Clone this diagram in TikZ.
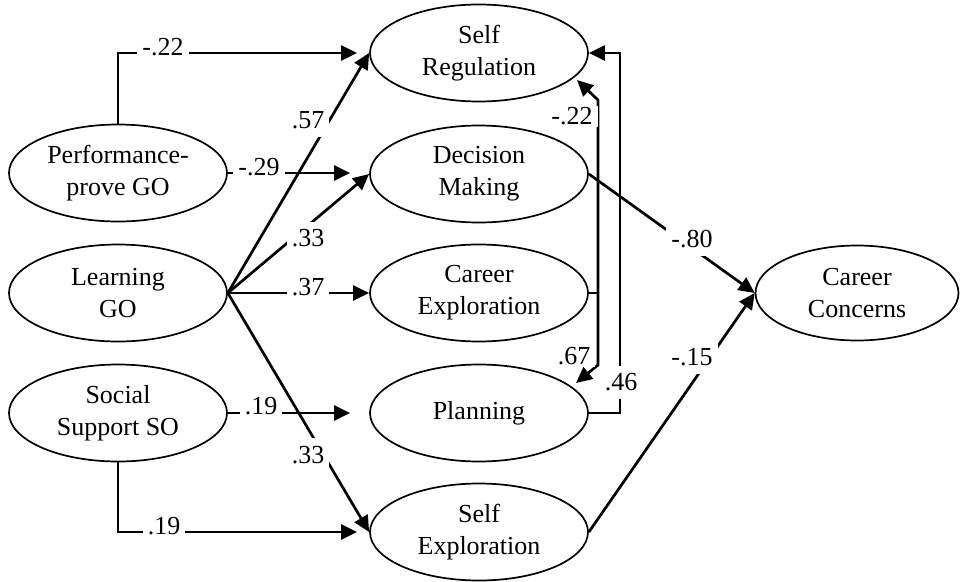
\documentclass[tikz,border=0pt]{standalone}
\usepackage{fontspec}
\setmainfont{Liberation Serif}
\usetikzlibrary{arrows.meta,shapes.geometric}
\begin{document}
\begin{tikzpicture}[x=1pt,y=-1pt,
  ell/.style={draw, line width=1.7pt, ellipse, minimum width=218pt, minimum height=97pt,
    inner sep=0pt, align=center, font=\fontsize{26}{32}\selectfont},
  conn/.style={line width=2.7pt, -{Triangle[length=16pt,width=15pt]}},
  plainline/.style={line width=2.7pt},
  lab/.style={fill=white, inner xsep=5pt, inner ysep=8pt, font=\fontsize{26}{32}\selectfont}]
\useasboundingbox (0,0) rectangle (960,581);
% nodes
\node[ell] (sr) at (479,53) {Self\\Regulation};
\node[ell] (dm) at (479,174) {Decision\\Making};
\node[ell] (ce) at (479,293) {Career\\Exploration};
\node[ell] (pl) at (479,413) {Planning};
\node[ell] (se) at (479,532) {Self\\Exploration};
\node[ell] (pg) at (118,173) {Performance-\\prove GO};
\node[ell] (lg) at (118,293) {Learning\\GO};
\node[ell] (ss) at (118,413) {Social\\Support SO};
\node[ell, minimum width=203pt, minimum height=95pt] (cc) at (857,293) {Career\\Concerns};
% coordinates
\coordinate (pgend) at (350,173);
\coordinate (ssend) at (350,413);
\coordinate (topend) at (357,53);
\coordinate (botend) at (357,532);
\coordinate (j) at (598,293);
\coordinate (jt) at (598,100);
\coordinate (jb) at (598,365);
\coordinate (srin) at (577,80);
\coordinate (plin) at (576,383);
\coordinate (pr) at (620,413);
\coordinate (prt) at (620,53);
% connectors
\draw[conn] (pg.north) |- (topend);
\draw[conn] (pg.east) -- (pgend);
\draw[conn] (lg.east) -- (sr.west);
\draw[conn] (lg.east) -- (dm.west);
\draw[conn] (lg.east) -- (ce.west);
\draw[conn] (lg.east) -- (se.west);
\draw[conn] (ss.east) -- (ssend);
\draw[conn] (ss.south) |- (botend);
\draw[conn] (dm.east) -- (cc.west);
\draw[conn] (se.east) -- (cc.west);
\draw[plainline] (ce.east) -- (j);
\draw[conn] (j) -- (jt) -- (srin);
\draw[conn] (j) -- (jb) -- (plin);
\draw[conn] (pl.east) -- (pr) -- (prt) -- (sr.east);
% labels
\node[lab] (l1) at (163,47.5) {-.22};
\node[lab] (l2) at (259,167.5) {-.29};
\node[lab] (l3) at (308,120) {.57};
\node[lab] (l4) at (308,238.5) {.33};
\node[lab] (l5) at (308,287) {.37};
\node[lab] (l6) at (261,406.5) {.19};
\node[lab] (l7) at (308,455) {.33};
\node[lab] (l8) at (164,526.5) {.19};
\node[lab] (l9) at (692,239) {-.80};
\node[lab] (l10) at (692,357.5) {-.15};
\node[lab, inner ysep=2pt] (l11) at (572,116.5) {-.22};
\node[lab, inner ysep=2pt] (l12) at (574,356) {.67};
\node[lab] (l13) at (621,382.5) {.46};
\end{tikzpicture}
\end{document}
